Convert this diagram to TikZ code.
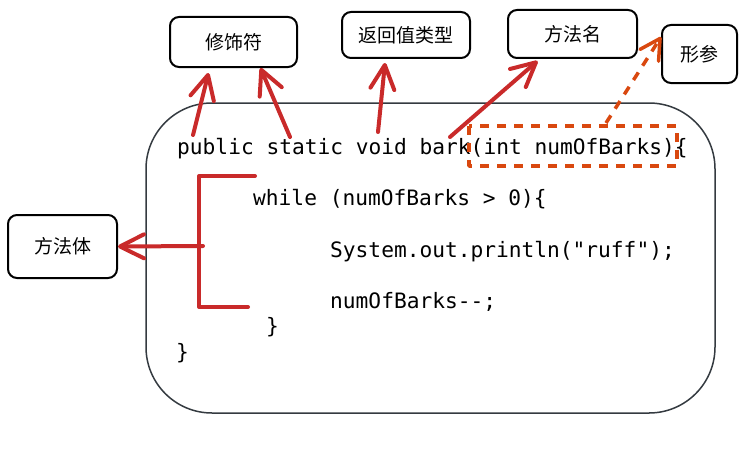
\documentclass[tikz,border=0pt]{standalone}
\usepackage{fontspec}
\setmonofont{DejaVu Sans Mono}
\newfontfamily\cjkfont{Noto Sans CJK SC}
\usepackage{tikz}
\usetikzlibrary{arrows.meta}
\definecolor{penred}{HTML}{C92A2A}
\definecolor{penorange}{HTML}{D9480F}
\definecolor{framegray}{HTML}{343A40}

\begin{document}
\begin{tikzpicture}[x=1pt,y=-1pt,
    labelbox/.style={rectangle, draw=black, line width=2pt, rounded corners=9pt,
        inner sep=0pt, font=\cjkfont\fontsize{19}{19}\selectfont},
    codeline/.style={anchor=base west, inner sep=0pt,
        font=\ttfamily\fontsize{21.2}{25}\selectfont},
    redarrow/.style={draw=penred, line width=4pt, line cap=round,
        -{Straight Barb[length=24pt,width=24pt,round]}},
    orangearrow/.style={draw=penorange, line width=3.5pt, dash pattern=on 9pt off 8pt,
        -{Straight Barb[length=20pt,width=22pt,round]}},
    bracket/.style={draw=penred, line width=4pt, line cap=round, line join=round}]

    \useasboundingbox (0,0) rectangle (746,452);

    % code frame
    \draw[framegray, line width=1.5pt, rounded corners=66pt] (146,103) rectangle (715,413);

    % code
    \node[codeline] (sig) at (177,154) {public static void bark(int numOfBarks)\{};
    \node[codeline] (loop) at (253,205) {while (numOfBarks > 0)\{};
    \node[codeline] (print) at (330,257) {System.out.println("ruff");};
    \node[codeline] (dec) at (330,308) {numOfBarks--;};
    \node[codeline] (loopend) at (266,333) {\}};
    \node[codeline] (sigend) at (176,359) {\}};

    % labels
    \node[labelbox, minimum width=127pt, minimum height=50pt] (mod) at (233.5,42) {修饰符};
    \node[labelbox, minimum width=128pt, minimum height=46pt] (ret) at (406,35) {返回值类型};
    \node[labelbox, minimum width=129pt, minimum height=48pt] (name) at (572.5,34) {方法名};
    \node[labelbox, minimum width=75pt, minimum height=58pt] (param) at (699.5,54) {形参};
    \node[labelbox, minimum width=109pt, minimum height=63pt] (body) at (62.5,246.5) {方法体};

    % parameter frame
    \draw[penorange, line width=3.5pt, dash pattern=on 9pt off 8pt, line join=round]
        (469,126) rectangle (677,166);

    % arrow ends in the code
    \coordinate (publicpt) at (193,135);
    \coordinate (staticpt) at (290,137);
    \coordinate (voidpt) at (378,132);
    \coordinate (barkpt) at (450,137);
    \coordinate (parampt) at (606,123);
    \coordinate (brtop) at (255,176);
    \coordinate (brtopc) at (199,176);
    \coordinate (brbotc) at (199,307);
    \coordinate (brbot) at (248,307);
    \coordinate (brmid) at (203,246);

    \draw[redarrow] (publicpt) -- ([xshift=-25pt,yshift=-5pt]mod.south);
    \draw[redarrow] (staticpt) -- ([xshift=27pt]mod.south);
    \draw[redarrow] (voidpt) -- ([xshift=-21pt,yshift=-4pt]ret.south);
    \draw[redarrow] (barkpt) -- ([xshift=-35pt,yshift=-2pt]name.south);
    \draw[orangearrow] (parampt) -- ([yshift=17pt]param.west);

    % method body bracket
    \draw[bracket] (brtop) -- (brtopc) -- (brbotc) -- (brbot);
    \draw[redarrow] (brmid) -- (body.east);

\end{tikzpicture}
\end{document}
